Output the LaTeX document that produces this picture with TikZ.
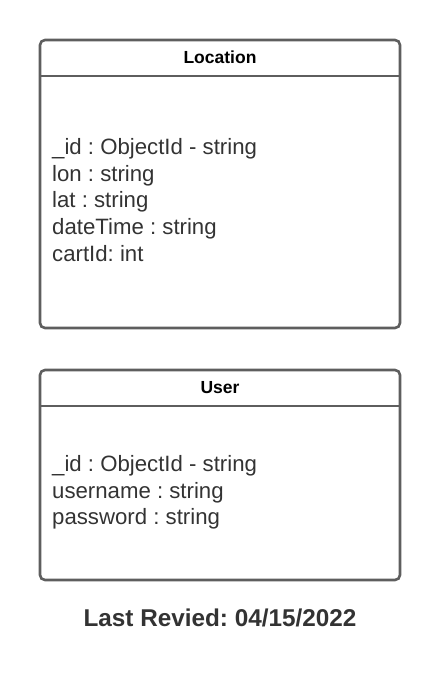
\documentclass[tikz,border=0pt]{standalone}
\usepackage{fontspec}
\setmainfont{Liberation Sans}
\usepackage{tikz}
\usetikzlibrary{positioning}
\frenchspacing
\definecolor{umlline}{HTML}{5E5E5E}
\definecolor{umltext}{HTML}{333333}
\tikzset{classbox/.style={draw=umlline,line width=2.6pt,rounded corners=5pt,minimum width=360pt,inner sep=0pt}}
\tikzset{classhead/.style={minimum width=360pt,minimum height=37pt,inner sep=0pt,text=black,font=\bfseries\fontsize{17.5}{21}\selectfont}}
\tikzset{attrs/.style={align=left,anchor=west,inner sep=0pt,text=umltext,font=\fontsize{22.2}{26.7}\selectfont}}
\tikzset{sepline/.style={draw=umlline,line width=2.6pt}}

\begin{document}
\begin{tikzpicture}[x=1pt, y=-1pt]
\useasboundingbox (0,0) rectangle (440,680);
    % Location class
    \node[classbox, minimum height=288pt] (loc) at (220,184) {};
    \node[classhead, below=0pt of loc.north] (locHead) {Location};
    \draw[sepline] (locHead.south west) -- (locHead.south east);
    \node[attrs] (locAttr) at (52,200) {\_id : ObjectId - string\\lon : string\\lat : string\\dateTime : string\\cartId: int};

    % User class
    \node[classbox, minimum height=210pt] (user) at (220,475) {};
    \node[classhead, below=0pt of user.north] (userHead) {User};
    \draw[sepline] (userHead.south west) -- (userHead.south east);
    \node[attrs] (userAttr) at (52,492.5) {\_id : ObjectId - string\\username : string\\password : string};

    \node[text=umltext, font=\bfseries\fontsize{24.3}{29}\selectfont] (revised) at (220,618) {Last Revied: 04/15/2022};
\end{tikzpicture}
\end{document}
